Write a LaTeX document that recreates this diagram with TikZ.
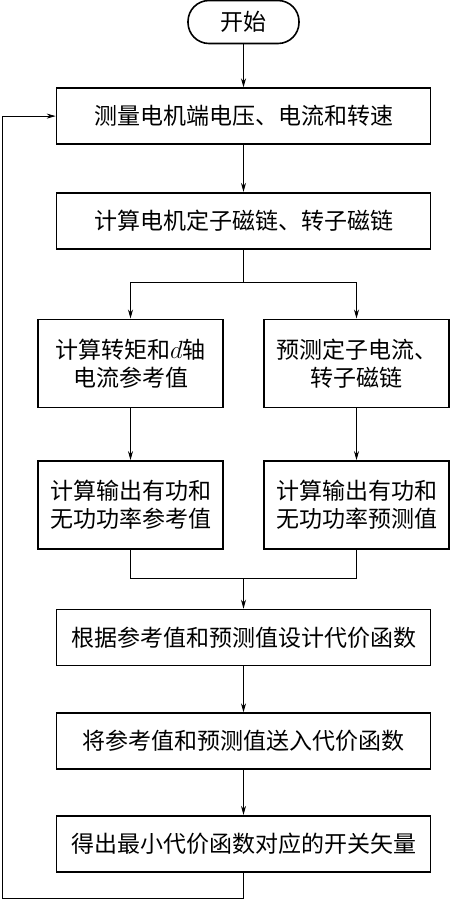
\documentclass[tikz,border=0pt]{standalone}
\usepackage{fontspec}
\newfontfamily\cjk{Noto Sans CJK SC}
\usetikzlibrary{arrows.meta, positioning}

\begin{document}
\begin{tikzpicture}[
    x=1pt, y=-1pt,
    node distance=45pt,
    term/.style={rectangle, rounded corners=21pt, minimum width=111pt, minimum height=43pt, text centered, draw=black, line width=1.6pt, font=\cjk\fontsize{23}{28}\selectfont},
    process/.style={rectangle, minimum width=374pt, minimum height=56pt, text centered, draw=black, line width=1.6pt, font=\cjk\fontsize{23}{28}\selectfont},
    half/.style={process, minimum width=185pt, minimum height=88pt, align=center},
    arrow/.style={line width=0.8pt,-{Stealth[length=9pt,width=5pt]}},
    line/.style={line width=0.8pt},
]
    \useasboundingbox (0,0) rectangle (450,900);

    \node (start) [term] at (243.5,22) {开始};
    \node (measure) [process, below=43pt of start] {测量电机端电压、电流和转速};
    \node (flux) [process, below=47pt of measure] {计算电机定子磁链、转子磁链};
    \coordinate [below=33pt of flux] (split);
    \node (torque) [half, below=69pt of flux, xshift=-113pt] {计算转矩和$d$轴\\电流参考值};
    \node (predict) [half, below=69pt of flux, xshift=113pt] {预测定子电流、\\转子磁链};
    \node (refpow) [half, below=52pt of torque] {计算输出有功和\\无功功率参考值};
    \node (prepow) [half, below=52pt of predict] {计算输出有功和\\无功功率预测值};
    \path (refpow.south -| flux.south) ++(0,29) coordinate (join);
    \node (design) [process, below=30pt of join] {根据参考值和预测值设计代价函数};
    \node (send) [process, below=46pt of design] {将参考值和预测值送入代价函数};
    \node (switch) [process, below=45pt of send] {得出最小代价函数对应的开关矢量};
    \coordinate (back) at (2,898);

    \draw [arrow] (start) -- (measure);
    \draw [arrow] (measure) -- (flux);
    \draw [line] (flux) -- (split);
    \draw [arrow] (split) -| (torque);
    \draw [arrow] (split) -| (predict);
    \draw [arrow] (torque) -- (refpow);
    \draw [arrow] (predict) -- (prepow);
    \draw [line] (refpow) |- (join);
    \draw [line] (prepow) |- (join);
    \draw [arrow] (join) -- (design);
    \draw [arrow] (design) -- (send);
    \draw [arrow] (send) -- (switch);
    \draw [arrow] (switch) |- (back) |- (measure);

\end{tikzpicture}
\end{document}
